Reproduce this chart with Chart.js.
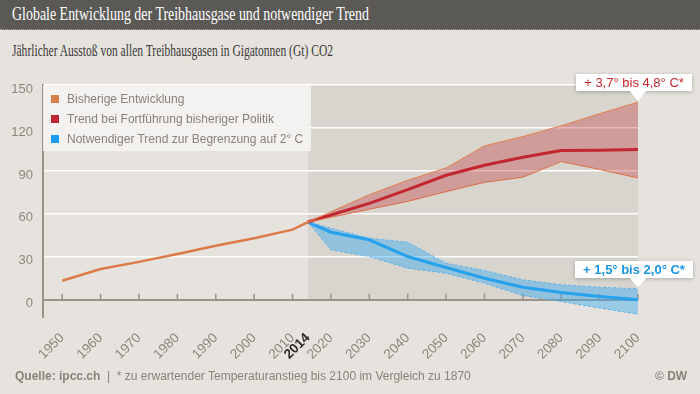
<!DOCTYPE html>
<html lang="de">
<head>
<meta charset="UTF-8">
<title>Globale Entwicklung der Treibhausgase und notwendiger Trend</title>
<script src="https://cdn.jsdelivr.net/npm/chart.js@4"></script>
<style>
  body { margin: 0; background: #e6e3df; }
  #wrap { position: relative; width: 700px; height: 394px; overflow: hidden; background: #e6e3df;
          font-family: "Liberation Sans", Arial, sans-serif; }
  #head { position: absolute; left: 0; top: 0; width: 700px; height: 29px; background: #5a5956;
          border-bottom: 1px dotted #a8a5a0; }
  .fit { position: absolute; white-space: nowrap; transform-origin: 0 50%;
         font-family: "Liberation Serif", "DejaVu Serif", serif; }
  #title { left: 12px; top: 3px; color: #fff; font-size: 19px; }
  #subtitle { left: 12px; top: 42px; color: #3a3836; font-size: 16px; }
  canvas { position: absolute; left: 0; top: 0; }
  #legend { position: absolute; left: 43px; top: 85px; width: 268px; height: 66px;
            background: rgba(245,244,242,0.88); }
  .item { position: absolute; left: 8px; height: 16px; line-height: 16px; font-size: 12px; color: #8a8178; white-space: nowrap; }
  .item i { display: inline-block; width: 8px; height: 8px; margin-right: 8px; vertical-align: 0px; }
  #foot { position: absolute; left: 15px; top: 369px; font-size: 12px; color: #8a8178; white-space: nowrap; }
  #dw { position: absolute; left: 655px; top: 369px; font-size: 12px; color: #8a8178; font-weight: bold; }
</style>
</head>
<body>
<div id="wrap">
  <div id="head"></div>
  <div id="title" class="fit" data-w="357">Globale Entwicklung der Treibhausgase und notwendiger Trend</div>
  <div id="subtitle" class="fit" data-w="321">Jährlicher Ausstoß von allen Treibhausgasen in Gigatonnen (Gt) CO2</div>
  <canvas id="chart" width="700" height="394"></canvas>
  <div id="legend"></div>
  <div id="foot"><b>Quelle: ipcc.ch</b>&nbsp; | &nbsp;* zu erwartender Temperaturanstieg bis 2100 im Vergleich zu 1870</div>
  <div id="dw">© DW</div>
</div>

<script>
// data (Gt CO2 per year)
var histYears  = [1950, 1960, 1970, 1980, 1990, 2000, 2010, 2014];
var histValues = [13.3, 21.5, 26.5, 32, 37.7, 43, 49, 54.3];

var futureYears = [2014, 2020, 2030, 2040, 2050, 2060, 2070, 2080, 2090, 2100];
var policyHigh  = [54.3, 61.5, 73.4, 83.5, 92, 107.5, 114, 121.5, 130, 138];
var policyMid   = [54.3, 59.2, 67.3, 77, 87, 94, 99.5, 104.2, 104.5, 105];
var policyLow   = [54.3, 57.6, 63.2, 68.7, 75.5, 82, 85.6, 96.5, 91, 85];
var targetHigh  = [54.3, 50, 43, 40.2, 25.6, 20.5, 14, 10.5, 8.8, 7.7];
var targetMid   = [54.3, 47.2, 41.9, 30.2, 22.6, 15.1, 8.8, 5.1, 2.3, 0];
var targetLow   = [54.3, 34.9, 30.2, 22.1, 18.6, 11.6, 3, -1.2, -5.8, -10];

var xTickValues = [1950, 1960, 1970, 1980, 1990, 2000, 2010, 2014, 2020, 2030, 2040, 2050, 2060, 2070, 2080, 2090, 2100];
var yTickValues = [0, 30, 60, 90, 120, 150];

var seriesNames  = ['Bisherige Entwicklung', 'Trend bei Fortführung bisheriger Politik', 'Notwendiger Trend zur Begrenzung auf 2° C'];
var seriesColors = ['#d9804e', '#c0272f', '#1a9cf0'];
var calloutTexts = ['+ 3,7° bis 4,8° C*', '+ 1,5° bis 2,0° C*'];

// squeeze the serif headings to the widths in the original
document.querySelectorAll('.fit').forEach(function(el) {
    var w = el.getBoundingClientRect().width;
    el.style.transform = 'scaleX(' + (+el.dataset.w / w) + ')';
});

// html legend
var legend = document.getElementById('legend');
seriesNames.forEach(function(name, i) {
    var d = document.createElement('div');
    d.className = 'item';
    d.style.top = (6 + i * 20) + 'px';
    d.innerHTML = '<i style="background:' + seriesColors[i] + '"></i>' + name;
    legend.appendChild(d);
});

function pts(xs, ys) {
    return xs.map(function(x, i) { return {x: x, y: ys[i]}; });
}

function tickIs(c, v) {
    return !!(c && c.tick && c.tick.value === v);
}

var axisColor = '#9b9288';

var backdrop = {
    id: 'backdrop',
    beforeDraw: function(chart) {
        var ctx = chart.ctx, area = chart.chartArea, x = chart.scales.x, y = chart.scales.y;
        var x0 = x.getPixelForValue(futureYears[0]);
        ctx.save();
        ctx.fillStyle = '#d8d5ce';
        ctx.fillRect(x0, area.top, area.right - x0, y.getPixelForValue(0) - area.top);
        ctx.restore();
    },
    beforeDatasetsDraw: function(chart) {
        // little tick marks standing on the zero line
        var ctx = chart.ctx, x = chart.scales.x, y = chart.scales.y;
        var y0 = y.getPixelForValue(0);
        ctx.save();
        ctx.strokeStyle = axisColor;
        ctx.lineWidth = 1.5;
        xTickValues.forEach(function(v) {
            if (v % 10) return;
            var px = x.getPixelForValue(v);
            ctx.beginPath();
            ctx.moveTo(px, y0 - 6);
            ctx.lineTo(px, y0);
            ctx.stroke();
        });
        ctx.restore();
    },
    afterDatasetsDraw: function(chart) {
        var x = chart.scales.x, y = chart.scales.y;
        var last = futureYears.length - 1;
        var px = x.getPixelForValue(futureYears[last]);
        callout(chart.ctx, px, y.getPixelForValue(policyHigh[last]), calloutTexts[0], '#c8252d', 'normal');
        callout(chart.ctx, px, y.getPixelForValue(targetHigh[last]), calloutTexts[1], '#1a96e6', 'bold');
    }
};

function callout(ctx, px, py, text, color, weight) {
    ctx.save();
    ctx.font = weight + ' 13px "Liberation Sans", Arial, sans-serif';
    var w = Math.round(ctx.measureText(text).width + 16), h = 17;
    var bx = Math.round(px - w / 2 - 4), by = Math.round(py - 11 - h);
    ctx.shadowColor = 'rgba(0,0,0,0.25)';
    ctx.shadowBlur = 4;
    ctx.shadowOffsetY = 1;
    ctx.fillStyle = '#fff';
    ctx.beginPath();
    ctx.rect(bx, by, w, h);
    ctx.fill();
    ctx.shadowColor = 'transparent';
    ctx.beginPath();
    ctx.moveTo(px - 9, by + h - 1);
    ctx.lineTo(px, py - 1);
    ctx.lineTo(px + 9, by + h - 1);
    ctx.closePath();
    ctx.fill();
    ctx.fillStyle = color;
    ctx.textAlign = 'center';
    ctx.textBaseline = 'middle';
    ctx.fillText(text, bx + w / 2, by + h / 2 + 1);
    ctx.restore();
}

Chart.defaults.font.family = '"Liberation Sans", Arial, sans-serif';

var chart = new Chart(document.getElementById('chart'), {
    type: 'line',
    data: {
        datasets: [{
            data: pts(histYears, histValues),
            borderColor: '#dc7b48',
            borderWidth: 2.5
        }, {
            data: pts(futureYears, policyHigh),
            borderColor: '#e3804f',
            borderWidth: 1,
            backgroundColor: 'rgba(192,40,47,0.33)',
            fill: '+1'
        }, {
            data: pts(futureYears, policyLow),
            borderColor: '#e3804f',
            borderWidth: 1
        }, {
            data: pts(futureYears, policyMid),
            borderColor: '#c42830',
            borderWidth: 3
        }, {
            data: pts(futureYears, targetHigh),
            borderColor: '#62b4ee',
            borderWidth: 1,
            borderDash: [3, 2],
            backgroundColor: 'rgba(60,170,240,0.45)',
            fill: '+1'
        }, {
            data: pts(futureYears, targetLow),
            borderColor: '#62b4ee',
            borderWidth: 1,
            borderDash: [3, 2]
        }, {
            data: pts(futureYears, targetMid),
            borderColor: '#1499ea',
            borderWidth: 3
        }]
    },
    options: {
        responsive: false,
        animation: false,
        layout: { padding: { top: 85, right: 62, left: 0, bottom: 0 } },
        elements: { point: { radius: 0 }, line: { tension: 0 } },
        plugins: { legend: { display: false }, tooltip: { enabled: false } },
        scales: {
            x: {
                type: 'linear',
                min: 1945,
                max: 2100,
                afterBuildTicks: function(s) { s.ticks = xTickValues.map(function(v) { return {value: v}; }); },
                afterFit: function(s) { s.height = 77; },
                grid: { display: false },
                border: { display: false },
                ticks: {
                    autoSkip: false,
                    maxRotation: 45,
                    minRotation: 45,
                    padding: 5,
                    callback: function(v) { return String(v); },
                    color: function(c) { return tickIs(c, 2014) ? '#2d2b29' : '#8e867c'; },
                    font: function(c) { return tickIs(c, 2014) ? {size: 13.5, weight: 'bold'} : {size: 13.5}; }
                }
            },
            y: {
                min: -12,
                max: 150,
                afterBuildTicks: function(s) { s.ticks = yTickValues.map(function(v) { return {value: v}; }); },
                afterFit: function(s) { s.width = 43; },
                grid: {
                    drawTicks: false,
                    color: function(c) { return tickIs(c, 0) ? axisColor : '#ffffff'; },
                    lineWidth: function(c) { return tickIs(c, 0) ? 2 : 1.5; }
                },
                border: { display: true, color: axisColor, width: 2 },
                ticks: {
                    padding: 10,
                    labelOffset: 4,
                    color: '#8e867c',
                    font: { size: 13 }
                }
            }
        }
    },
    plugins: [backdrop]
});
</script>
</body>
</html>
